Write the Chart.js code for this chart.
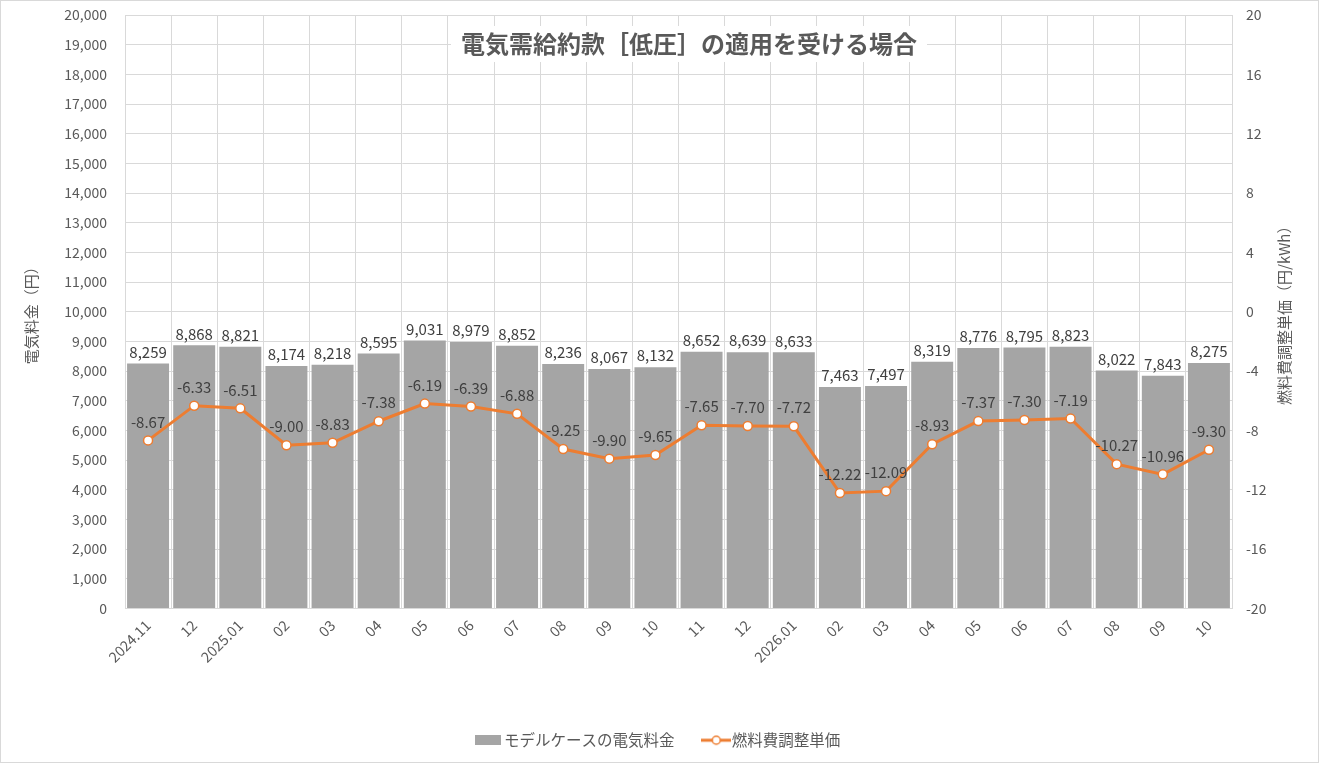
<!DOCTYPE html>
<html>
<head>
<meta charset="utf-8">
<script src="https://cdn.jsdelivr.net/npm/chart.js@4.4.0/dist/chart.umd.min.js"></script>
<style>
  body { margin: 0; background: #fff; }
  #wrap { width: 1319px; height: 763px; position: relative; box-sizing: border-box; border: 1px solid #d9d9d9; }
  canvas { position: absolute; left: 0; top: 0; }
</style>
</head>
<body>
<div id="wrap"><canvas id="chart" width="1319" height="763"></canvas></div>
<script>
// chart data
const months = ['2024.11', '12', '2025.01', '02', '03', '04', '05', '06', '07', '08', '09', '10',
                '11', '12', '2026.01', '02', '03', '04', '05', '06', '07', '08', '09', '10'];
const modelBill = [8259, 8868, 8821, 8174, 8218, 8595, 9031, 8979, 8852, 8236, 8067, 8132,
                   8652, 8639, 8633, 7463, 7497, 8319, 8776, 8795, 8823, 8022, 7843, 8275];
const fuelAdjust = [-8.67, -6.33, -6.51, -9.00, -8.83, -7.38, -6.19, -6.39, -6.88, -9.25, -9.90, -9.65,
                    -7.65, -7.70, -7.72, -12.22, -12.09, -8.93, -7.37, -7.30, -7.19, -10.27, -10.96, -9.30];

const titleText = '電気需給約款［低圧］の適用を受ける場合';
const leftTitle = '電気料金（円）';
const rightTitle = '燃料費調整単価（円/kWh）';

const FONT = "'Noto Sans CJK JP', 'Noto Sans', sans-serif";
const GREY_TEXT = '#595959';
const BAR_COLOR = '#a5a5a5';
const LINE_COLOR = '#ed7d31';

// legend swatches
function makeBarSwatch() {
    const c = document.createElement('canvas');
    c.width = 26; c.height = 10;
    const g = c.getContext('2d');
    g.fillStyle = BAR_COLOR;
    g.fillRect(0, 0, 26, 10);
    return c;
}
function makeLineSwatch() {
    const c = document.createElement('canvas');
    c.width = 30; c.height = 12;
    const g = c.getContext('2d');
    g.strokeStyle = LINE_COLOR;
    g.lineWidth = 3;
    g.beginPath(); g.moveTo(0, 6); g.lineTo(30, 6); g.stroke();
    g.fillStyle = '#fff';
    g.lineWidth = 1.5;
    g.beginPath(); g.arc(15, 6, 4, 0, Math.PI * 2); g.fill(); g.stroke();
    return c;
}

// value labels, title and rotated axis titles
const decorations = {
    id: 'decorations',
    afterDatasetsDraw(chart) {
        const ctx = chart.ctx;
        ctx.save();
        ctx.font = '15px ' + FONT;
        ctx.fillStyle = '#404040';
        ctx.textAlign = 'center';
        ctx.textBaseline = 'bottom';
        chart.getDatasetMeta(0).data.forEach((bar, i) => {
            ctx.fillText(modelBill[i].toLocaleString('en-US'), bar.x, bar.y - 4);
        });
        chart.getDatasetMeta(1).data.forEach((pt, i) => {
            ctx.fillText(fuelAdjust[i].toFixed(2), pt.x, pt.y - 11);
        });
        ctx.restore();
    },
    afterDraw(chart) {
        const ctx = chart.ctx;
        const area = chart.chartArea;
        ctx.save();
        // title with white box over the grid
        ctx.font = 'bold 24px ' + FONT;
        const w = ctx.measureText(titleText).width;
        const cx = 688, cy = 43;
        ctx.fillStyle = '#fff';
        ctx.fillRect(cx - w / 2 - 10, cy - 18, w + 20, 36);
        ctx.fillStyle = GREY_TEXT;
        ctx.textAlign = 'center';
        ctx.textBaseline = 'middle';
        ctx.fillText(titleText, cx, cy);
        // axis titles (both read bottom to top)
        ctx.font = '15px ' + FONT;
        const my = (area.top + area.bottom) / 2;
        ctx.translate(30, my);
        ctx.rotate(-Math.PI / 2);
        ctx.fillText(leftTitle, 0, 0);
        ctx.setTransform(1, 0, 0, 1, 0, 0);
        ctx.translate(1283, my);
        ctx.rotate(-Math.PI / 2);
        ctx.fillText(rightTitle, 0, 0);
        ctx.restore();
    }
};

const ctx = document.getElementById('chart').getContext('2d');
const chart = new Chart(ctx, {
    type: 'bar',
    data: {
        labels: months,
        datasets: [{
            type: 'bar',
            label: 'モデルケースの電気料金',
            data: modelBill,
            backgroundColor: BAR_COLOR,
            yAxisID: 'y',
            barPercentage: 0.91,
            categoryPercentage: 1.0,
            order: 1
        }, {
            type: 'line',
            label: '燃料費調整単価',
            data: fuelAdjust,
            borderColor: LINE_COLOR,
            borderWidth: 3,
            pointBackgroundColor: '#fff',
            pointBorderColor: LINE_COLOR,
            pointBorderWidth: 1.5,
            pointRadius: 4.5,
            tension: 0,
            yAxisID: 'y1',
            order: 0
        }]
    },
    options: {
        responsive: false,
        devicePixelRatio: 1,
        animation: false,
        layout: { padding: { top: 14, bottom: 6, left: 0, right: 0 } },
        plugins: {
            title: { display: false },
            tooltip: { enabled: false },
            legend: {
                position: 'bottom',
                labels: {
                    usePointStyle: true,
                    color: GREY_TEXT,
                    font: { family: FONT, size: 15.5 },
                    padding: 34,
                    generateLabels(chart) {
                        return [
                            { text: 'モデルケースの電気料金', pointStyle: makeBarSwatch(), fillStyle: BAR_COLOR, strokeStyle: BAR_COLOR, lineWidth: 0, datasetIndex: 0, fontColor: GREY_TEXT },
                            { text: '燃料費調整単価', pointStyle: makeLineSwatch(), fillStyle: LINE_COLOR, strokeStyle: LINE_COLOR, lineWidth: 0, datasetIndex: 1, fontColor: GREY_TEXT }
                        ];
                    }
                }
            }
        },
        scales: {
            x: {
                grid: { color: '#d9d9d9', drawTicks: false, offset: true },
                border: { color: '#d9d9d9' },
                ticks: {
                    color: GREY_TEXT,
                    font: { family: FONT, size: 14.5 },
                    maxRotation: 45,
                    minRotation: 45,
                    autoSkip: false,
                    padding: 8
                },
                afterFit(scale) { scale.height = 90; }
            },
            y: {
                position: 'left',
                min: 0,
                max: 20000,
                grid: { color: '#d9d9d9', drawTicks: false },
                border: { color: '#d9d9d9' },
                ticks: {
                    stepSize: 1000,
                    color: GREY_TEXT,
                    font: { family: FONT, size: 14 },
                    padding: 18,
                    callback: v => v.toLocaleString('en-US')
                },
                afterFit(scale) { scale.width = 124; scale.paddingTop = 0; scale.paddingBottom = 0; }
            },
            y1: {
                position: 'right',
                min: -20,
                max: 20,
                grid: { display: false, drawTicks: false },
                border: { color: '#d9d9d9' },
                ticks: {
                    stepSize: 4,
                    color: GREY_TEXT,
                    font: { family: FONT, size: 14 },
                    padding: 14
                },
                afterFit(scale) { scale.width = 88; scale.paddingTop = 0; scale.paddingBottom = 0; }
            }
        }
    },
    plugins: [decorations]
});
</script>
</body>
</html>
